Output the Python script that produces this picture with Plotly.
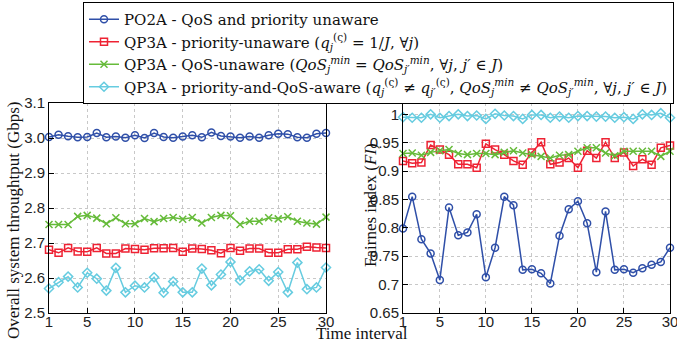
import plotly.graph_objects as go

W, H = 677, 343

time_interval = list(range(1, 31))

# Left panel: overall system throughput (Gbps)
thr_po2a = [3.003, 3.009, 3.005, 3.002, 3.003, 3.014, 3.002, 3.004, 3.001, 3.008,
            3.000, 3.014, 3.003, 3.001, 3.004, 3.008, 3.002, 3.016, 3.006, 3.004,
            3.001, 3.004, 3.001, 3.008, 3.012, 3.011, 3.002, 3.001, 3.012, 3.014]
thr_prio_unaware = [2.681, 2.672, 2.686, 2.676, 2.675, 2.686, 2.670, 2.670, 2.684, 2.683,
                    2.681, 2.685, 2.685, 2.686, 2.675, 2.684, 2.683, 2.679, 2.671, 2.686,
                    2.678, 2.684, 2.684, 2.672, 2.672, 2.682, 2.682, 2.689, 2.687, 2.686]
thr_qos_unaware = [2.753, 2.753, 2.753, 2.776, 2.779, 2.771, 2.755, 2.772, 2.755, 2.755,
                   2.770, 2.761, 2.770, 2.773, 2.768, 2.773, 2.757, 2.773, 2.779, 2.778,
                   2.753, 2.762, 2.762, 2.772, 2.769, 2.775, 2.762, 2.757, 2.754, 2.774]
thr_aware = [2.570, 2.588, 2.604, 2.573, 2.615, 2.598, 2.564, 2.629, 2.559, 2.578,
             2.573, 2.602, 2.558, 2.590, 2.559, 2.559, 2.627, 2.579, 2.610, 2.646,
             2.593, 2.619, 2.625, 2.592, 2.617, 2.559, 2.644, 2.568, 2.573, 2.630]

# Right panel: fairness index
fi_po2a = [0.799, 0.855, 0.780, 0.755, 0.708, 0.836, 0.787, 0.792, 0.824, 0.713,
           0.765, 0.855, 0.840, 0.726, 0.727, 0.720, 0.702, 0.786, 0.833, 0.847,
           0.808, 0.722, 0.829, 0.726, 0.727, 0.721, 0.729, 0.735, 0.740, 0.765]
fi_prio_unaware = [0.918, 0.914, 0.915, 0.946, 0.938, 0.929, 0.912, 0.912, 0.906, 0.948,
                   0.938, 0.929, 0.918, 0.911, 0.933, 0.951, 0.912, 0.915, 0.923, 0.906,
                   0.936, 0.923, 0.951, 0.923, 0.933, 0.909, 0.921, 0.911, 0.941, 0.945]
fi_qos_unaware = [0.931, 0.932, 0.928, 0.933, 0.936, 0.938, 0.931, 0.929, 0.931, 0.931,
                  0.929, 0.933, 0.936, 0.932, 0.929, 0.926, 0.923, 0.928, 0.929, 0.935,
                  0.941, 0.941, 0.932, 0.927, 0.935, 0.935, 0.935, 0.935, 0.926, 0.935]
fi_aware = [0.995, 0.994, 0.994, 1.000, 0.994, 0.997, 1.000, 0.997, 0.998, 0.992,
            1.001, 0.998, 0.997, 0.992, 0.999, 0.999, 0.994, 0.996, 0.994, 0.997,
            0.997, 0.996, 0.996, 0.994, 0.995, 0.992, 1.000, 0.999, 1.002, 0.994]

left_ticks = [2.5, 2.6, 2.7, 2.8, 2.9, 3.0, 3.1]
left_ticklabels = ["2.5", "2.6", "2.7", "2.8", "2.9", "3.0", "3.1"]
right_ticks = [0.65, 0.7, 0.75, 0.8, 0.85, 0.9, 0.95, 1.0]
right_ticklabels = ["0.65", "0.7", "0.75", "0.8", "0.85", "0.9", "0.95", "1"]
x_ticks = [1, 5, 10, 15, 20, 25, 30]

names = [
    "PO2A - QoS and priority unaware",
    "QP3A - priority-unaware (<i>q</i><sub><i>j</i></sub><sup>(ς)</sup> = 1/<i>J</i>, ∀<i>j</i>)",
    "QP3A - QoS-unaware (<i>QoS</i><sub><i>j</i></sub><sup><i>min</i></sup> = <i>QoS</i><sub><i>j′</i></sub><sup><i>min</i></sup>, ∀<i>j</i>, <i>j′</i> ∈ <i>J</i>)",
    "QP3A - priority-and-QoS-aware (<i>q</i><sub><i>j</i></sub><sup>(ς)</sup> ≠ <i>q</i><sub><i>j′</i></sub><sup>(ς)</sup>, <i>QoS</i><sub><i>j</i></sub><sup><i>min</i></sup> ≠ <i>QoS</i><sub><i>j′</i></sub><sup><i>min</i></sup>, ∀<i>j</i>, <i>j′</i> ∈ <i>J</i>)",
]
colors = ["#2f4fa8", "#ee2233", "#66bb3a", "#66cce0"]
symbols = ["circle-open", "square-open", "x-thin-open", "diamond-open"]

left_series = [thr_po2a, thr_prio_unaware, thr_qos_unaware, thr_aware]
right_series = [fi_po2a, fi_prio_unaware, fi_qos_unaware, fi_aware]

SERIF = '"Liberation Serif", "DejaVu Serif", serif'
LEGEND_SERIF = '"DejaVu Serif", serif'
SANS = '"Liberation Sans", Arial, sans-serif'

fig = go.Figure()
for i in range(4):
    fig.add_trace(go.Scatter(
        x=time_interval, y=left_series[i], mode="lines+markers", name=names[i],
        line=dict(color=colors[i], width=1.5),
        marker=dict(symbol=symbols[i], size=7, color=colors[i], line=dict(width=1.5, color=colors[i])),
        cliponaxis=False, xaxis="x", yaxis="y", showlegend=True, legendrank=i,
    ))
for i in range(4):
    fig.add_trace(go.Scatter(
        x=time_interval, y=right_series[i], mode="lines+markers", name=names[i],
        line=dict(color=colors[i], width=1.5),
        marker=dict(symbol=symbols[i], size=7, color=colors[i], line=dict(width=1.5, color=colors[i])),
        cliponaxis=False, xaxis="x2", yaxis="y2", showlegend=False,
    ))

def px_x(p):
    return p / W

def px_y(p):
    return 1 - p / H

tick_font = dict(family=SANS, size=15, color="#222")
axis_common = dict(
    showline=True, linecolor="black", linewidth=1, mirror=True,
    ticks="inside", ticklen=5, tickcolor="black",
    showgrid=True, gridcolor="#c8c8c8", griddash="dot", gridwidth=1,
    zeroline=False, tickfont=tick_font, automargin=False,
    ticklabeloverflow="allow",
)
x_extra = dict(ticklabelstandoff=-5)

ydom = [px_y(313), px_y(103)]
fig.update_layout(
    width=W, height=H,
    margin=dict(l=0, r=0, t=0, b=0),
    paper_bgcolor="white", plot_bgcolor="white",
    xaxis=dict(domain=[px_x(49), px_x(326)], range=[1, 30], tickvals=x_ticks, anchor="y", **axis_common, **x_extra),
    yaxis=dict(domain=ydom, range=[2.5, 3.1], tickvals=left_ticks, ticktext=left_ticklabels, anchor="x", **axis_common),
    xaxis2=dict(domain=[px_x(403), px_x(670)], range=[1, 30], tickvals=x_ticks, anchor="y2", **axis_common, **x_extra),
    yaxis2=dict(domain=ydom, range=[0.65, 1.02], tickvals=right_ticks, ticktext=right_ticklabels, anchor="x2", **axis_common),
    legend=dict(
        x=px_x(83), y=px_y(2), xanchor="left", yanchor="top",
        bordercolor="black", borderwidth=1, bgcolor="white",
        font=dict(family=LEGEND_SERIF, size=15, color="#111"),
        itemwidth=30, tracegroupgap=0,
    ),
    annotations=[
        dict(text="Overall system throughtput (Gbps)", x=px_x(13), y=px_y(220), xref="paper", yref="paper",
             xanchor="center", yanchor="middle",
             textangle=-90, showarrow=False, font=dict(family=SERIF, size=17, color="#111")),
        dict(text="Fairnes index (<i>FI</i>)", x=px_x(370), y=px_y(205), xref="paper", yref="paper",
             xanchor="center", yanchor="middle",
             textangle=-90, showarrow=False, font=dict(family=SERIF, size=17, color="#111")),
        dict(text="Time interval", x=px_x(362), y=px_y(333), xref="paper", yref="paper",
             xanchor="center", yanchor="middle",
             showarrow=False, font=dict(family=SERIF, size=17, color="#111")),
    ],
)

fig.write_html("out.html", config={"displayModeBar": False})

# remove the default 8px page margin so the figure sits at the window origin
with open("out.html", "r", encoding="utf-8") as f:
    html = f.read()
html = html.replace("<head>", "<head><style>html,body{margin:0;padding:0;overflow:hidden;}</style>", 1)
with open("out.html", "w", encoding="utf-8") as f:
    f.write(html)
